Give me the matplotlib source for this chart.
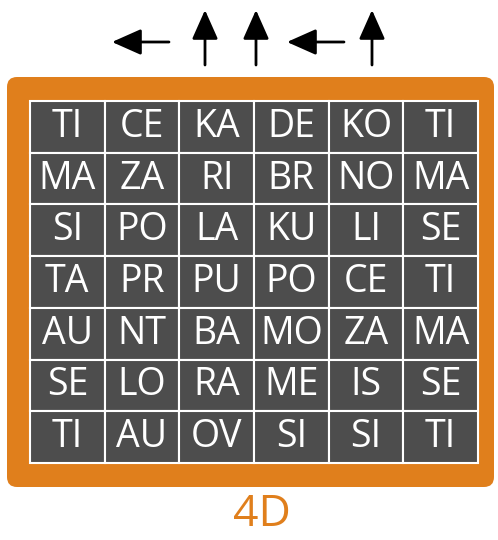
import matplotlib.pyplot as plt
from matplotlib.patches import FancyBboxPatch, Rectangle

# syllable grid, row by row
rows = [
    ['TI', 'CE', 'KA', 'DE', 'KO', 'TI'],
    ['MA', 'ZA', 'RI', 'BR', 'NO', 'MA'],
    ['SI', 'PO', 'LA', 'KU', 'LI', 'SE'],
    ['TA', 'PR', 'PU', 'PO', 'CE', 'TI'],
    ['AU', 'NT', 'BA', 'MO', 'ZA', 'MA'],
    ['SE', 'LO', 'RA', 'ME', 'IS', 'SE'],
    ['TI', 'AU', 'OV', 'SI', 'SI', 'TI'],
]
arrow_dirs = ['left', 'up', 'up', 'left', 'up']
arrow_x = [141, 205, 256, 316, 372]
label = '4D'

orange = '#e07f1c'
cell_col = '#4d4d4d'

fig = plt.figure(figsize=(4.98, 5.40), dpi=100)
ax = fig.add_axes([0, 0, 1, 1])
ax.set_xlim(0, 498)
ax.set_ylim(540, 0)
ax.axis('off')

# orange frame
ax.add_patch(FancyBboxPatch((7, 77), 487, 410, boxstyle='round,pad=0,rounding_size=10',
                            fc=orange, ec='none'))

x0, y0 = 30, 101
cw, ch = 448 / 6, 362 / 7
for r, row in enumerate(rows):
    for c, s in enumerate(row):
        x = x0 + c * cw
        y = y0 + r * ch
        ax.add_patch(Rectangle((x, y), cw, ch, fc=cell_col, ec='white', lw=1.5))
        ax.text(x + cw / 2, y + ch / 2, s, color='white', fontsize=27,
                family='Open Sans', ha='center', va='center')

# arrows on top
for d, x in zip(arrow_dirs, arrow_x):
    if d == 'left':
        tail, head = (x + 28, 42), (x - 29, 42)
    else:
        tail, head = (x, 65), (x, 10)
    ax.annotate('', xy=head, xytext=tail,
                arrowprops=dict(arrowstyle='-|>,head_length=0.9,head_width=0.4',
                                lw=2, color='black', mutation_scale=20,
                                shrinkA=0, shrinkB=0))

ax.text(262, 515, label, color=orange, fontsize=32, family='Open Sans',
        ha='center', va='center')

fig.savefig('out.png', dpi=100)
